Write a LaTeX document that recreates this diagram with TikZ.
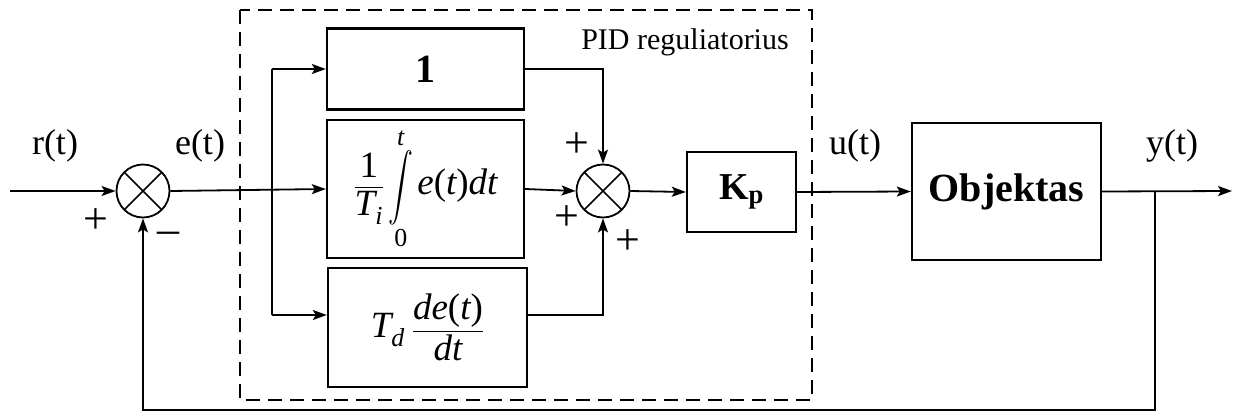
\documentclass[tikz,border=0pt]{standalone}
\usepackage{amsmath}
\usepackage{graphicx}
\usepackage{fontspec}
\setmainfont{Liberation Serif}
\usetikzlibrary{arrows.meta}
\newcommand{\bigint}{\mathop{\vcenter{\hbox{\scalebox{1}[1.35]{$\displaystyle\int$}}}}\limits}
\begin{document}
\begin{tikzpicture}[x=1pt,y=-1pt,
  line width=1.8pt,
  arr/.style={-{Stealth[length=14pt,width=10pt,inset=3pt]}},
  blk/.style={draw,line width=2.4pt,inner sep=0pt},
  sumc/.style={draw,circle,line width=1.8pt,minimum size=53pt,inner sep=0pt,
    path picture={\draw[line width=1.5pt] (path picture bounding box.north west) -- (path picture bounding box.south east)
      (path picture bounding box.north east) -- (path picture bounding box.south west);}},
  lbl/.style={inner sep=0pt,font=\fontsize{36}{40}\selectfont},
  sgn/.style={inner sep=0pt,font=\fontsize{44}{48}\selectfont},
  mth/.style={font=\fontsize{37}{42}\selectfont}]
\useasboundingbox (0,0) rectangle (1237,414);
% dashed PID frame
\draw[line width=2.4pt,dash pattern=on 14pt off 8pt] (240,10) rectangle (812,400);
\node[inner sep=0pt,font=\fontsize{30}{34}\selectfont] (pid) at (685,42) {PID reguliatorius};
% summing junctions
\node[sumc] (s1) at (143,191) {};
\node[sumc] (s2) at (603,191) {};
% blocks
\node[blk,minimum width=197pt,minimum height=81pt] (b1) at (425.5,69) {\fontsize{40}{44}\selectfont\bfseries 1};
\node[blk,minimum width=197pt,minimum height=138pt,mth] (bi) at (425.5,189)
  {$\dfrac{\text{1}}{\textit{T}_{\textit{i}}}\bigint_{\text{0}}^{\textit{t}}\textit{e}\text{(}\textit{t}\text{)}\textit{dt}$};
\node[blk,minimum width=199pt,minimum height=119pt,mth] (bd) at (427.5,327.5)
  {$\textit{T}_{\textit{d}}\;\dfrac{\textit{de}\text{(}\textit{t}\text{)}}{\textit{dt}}$};
\node[blk,minimum width=109pt,minimum height=80pt] (kp) at (741.5,192) {\fontsize{38}{42}\selectfont\textbf{K}\textsubscript{\textbf{p}}};
\node[blk,minimum width=189pt,minimum height=137pt] (obj) at (1006.5,191.5) {\fontsize{40}{44}\selectfont\bfseries Objektas};
% coordinates
\coordinate (in) at (10,191);
\coordinate (jt) at (272,69);
\coordinate (jb) at (272,315);
\coordinate (br) at (1155,191);
\coordinate (out) at (1232,191);
\coordinate (fb) at (1155,410);
% connectors
\draw[arr] (in) -- (s1.west);
\draw[arr] (s1.east) -- (bi.west);
\draw (jt) -- (jb);
\draw[arr] (jt) -- (b1.west);
\draw[arr] (jb) -- (bd.west |- jb);
\draw[arr] (b1.east) -| (s2.north);
\draw[arr] (bi.east) -- (s2.west);
\draw[arr] (bd.east |- jb) -| (s2.south);
\draw[arr] (s2.east) -- (kp.west);
\draw[arr] (kp.east) -- (obj.west);
\draw[arr] (obj.east) -- (out);
\draw[arr] (br) -- (fb) -| (s1.south);
% signal labels
\node[lbl] (lr) at (55,146) {r(t)};
\node[lbl] (le) at (200,146) {e(t)};
\node[lbl] (lu) at (855,146) {u(t)};
\node[lbl] (ly) at (1172,146) {y(t)};
% signs
\node[sgn] (p1) at (96,221) {+};
\node[sgn] (m1) at (168,238) {\textendash};
\node[sgn] (p2) at (577,145) {+};
\node[sgn] (p3) at (567,218) {+};
\node[sgn] (p4) at (628,242) {+};
\end{tikzpicture}
\end{document}
